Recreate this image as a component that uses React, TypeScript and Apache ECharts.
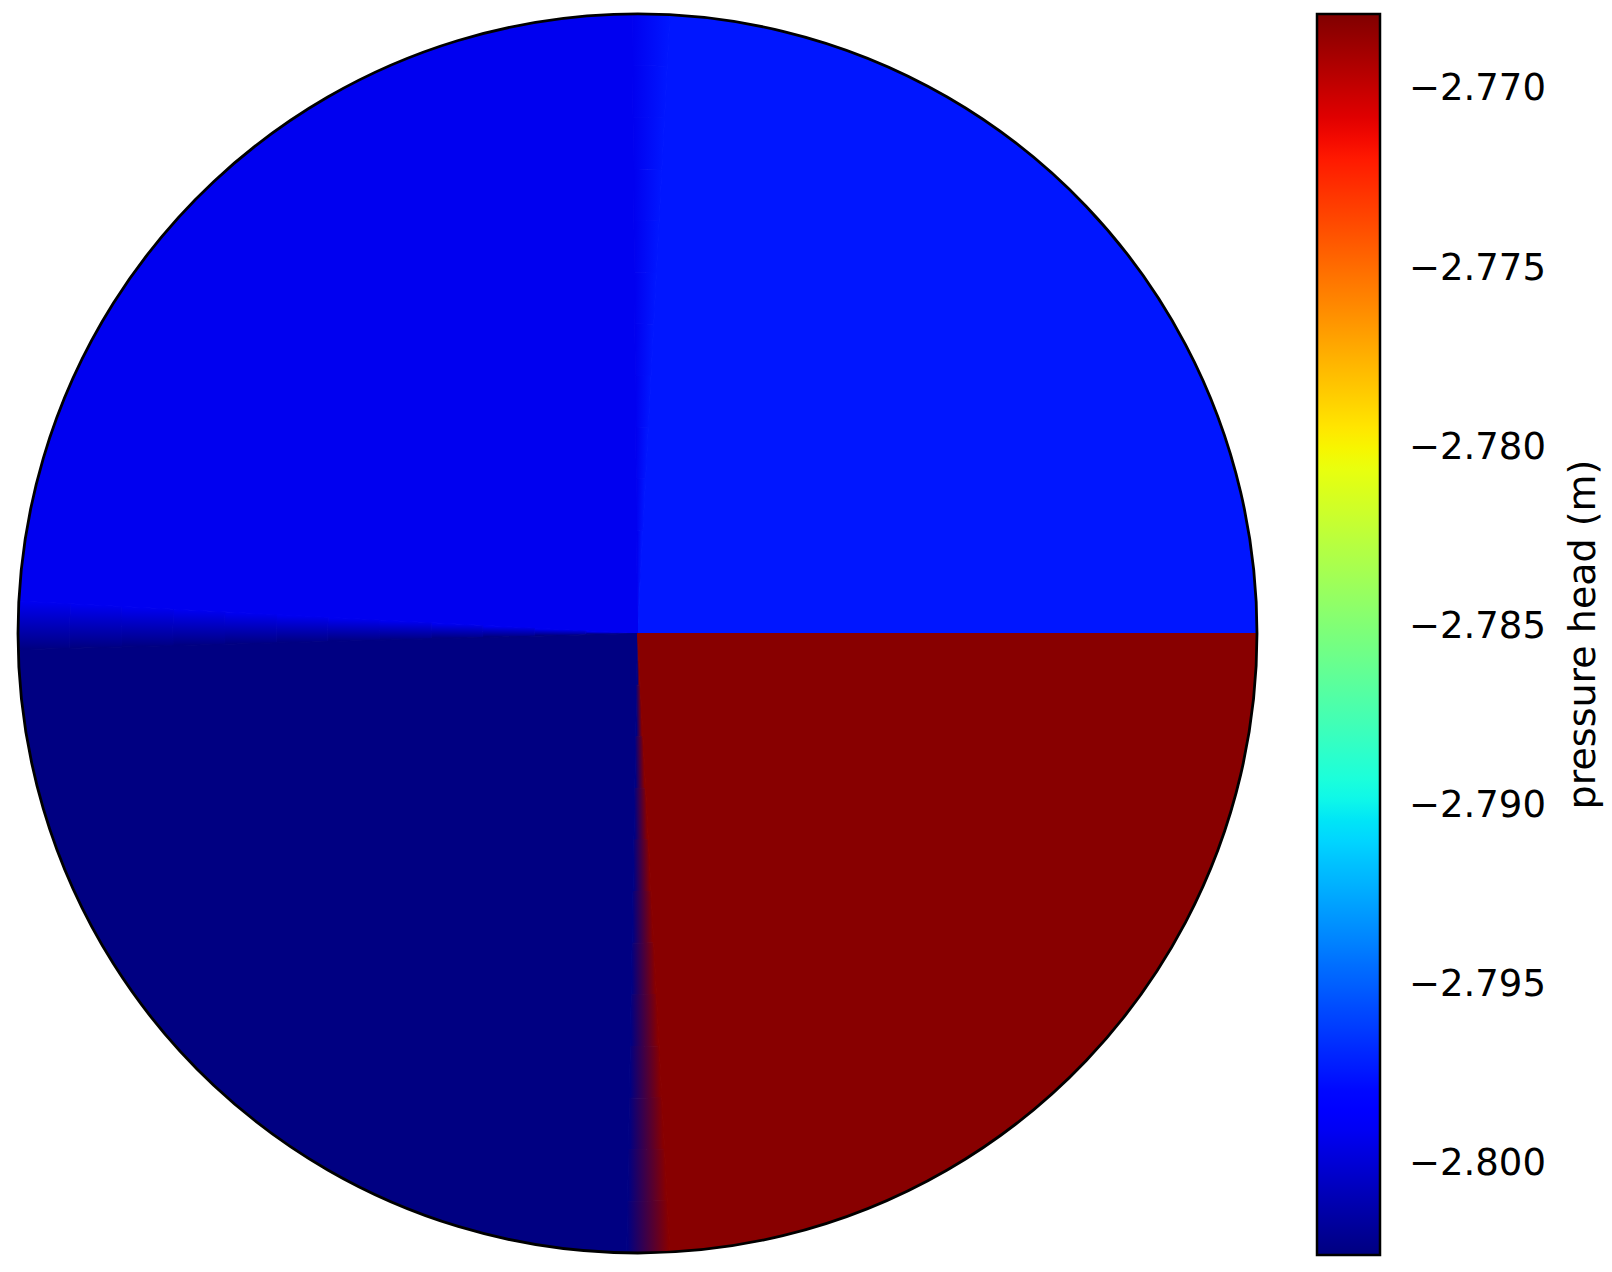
import React, { useEffect, useRef } from "react";
import * as echarts from "echarts";

// colour-bar limits (pressure head, m)
const barMin = -2.80257;
const barMax = -2.76794;
const tickValues = [-2.8, -2.795, -2.79, -2.785, -2.78, -2.775, -2.77];

// field sectors: angles in degrees (counter-clockwise from +x), values at each side of sector
const sectorStart = [0, 87, 90.5, 177, 181.5, 269, 273];
const sectorEnd = [87, 90.5, 177, 181.5, 269, 273, 360];
const valueFrom = [-2.7975, -2.7975, -2.7992, -2.7992, -2.8025, -2.8025, -2.7682];
const valueTo = [-2.7975, -2.7992, -2.7992, -2.8025, -2.8025, -2.7682, -2.7682];

const colorbarLabel = "pressure head (m)";

function interp(pts: number[][], t: number) {
  if (t <= pts[0][0]) return pts[0][1];
  for (let i = 1; i < pts.length; i++) {
    if (t <= pts[i][0]) {
      const [x0, y0] = pts[i - 1];
      const [x1, y1] = pts[i];
      return y0 + ((t - x0) / (x1 - x0)) * (y1 - y0);
    }
  }
  return pts[pts.length - 1][1];
}
const R_PTS = [[0, 0], [0.35, 0], [0.66, 1], [0.89, 1], [1, 0.5]];
const G_PTS = [[0, 0], [0.125, 0], [0.375, 1], [0.64, 1], [0.91, 0], [1, 0]];
const B_PTS = [[0, 0.5], [0.11, 1], [0.34, 1], [0.65, 0], [1, 0]];
function jetT(t: number) {
  const c = (v: number) => Math.round(Math.max(0, Math.min(1, v)) * 255);
  return `rgb(${c(interp(R_PTS, t))},${c(interp(G_PTS, t))},${c(interp(B_PTS, t))})`;
}
function jet(v: number) {
  return jetT((v - barMin) / (barMax - barMin));
}

export default function App() {
  const ref = useRef<HTMLDivElement>(null);
  useEffect(() => {
    document.body.style.margin = "0";
    const chart = echarts.init(ref.current!, null, { renderer: "svg" });
    const fieldData = sectorStart.map((s, i) => [s, sectorEnd[i], valueFrom[i], valueTo[i]]);
    const barStops: any[] = [];
    for (let i = 0; i <= 60; i++) barStops.push({ offset: i / 60, color: jetT(1 - i / 60) });

    const option: any = {
      animation: false,
      backgroundColor: "#fff",
      grid: [
        { left: 18, top: 14, width: 1239, height: 1239 },
        { left: 1317, top: 14, width: 63, height: 1241 },
      ],
      xAxis: [
        { gridIndex: 0, type: "value", min: -1, max: 1, show: false },
        { gridIndex: 1, type: "value", min: 0, max: 1, show: false },
      ],
      yAxis: [
        { gridIndex: 0, type: "value", min: -1, max: 1, show: false },
        {
          gridIndex: 1,
          type: "value",
          position: "right",
          min: barMin,
          max: barMax,
          axisLine: { show: false },
          splitLine: { show: false },
          axisTick: {
            show: true,
            customValues: tickValues,
            length: 12,
            lineStyle: { color: "#000", width: 2.5 },
          },
          axisLabel: {
            show: true,
            customValues: tickValues,
            margin: 29,
            fontSize: 37,
            fontFamily: "DejaVu Sans",
            color: "#000",
            formatter: (v: number) => v.toFixed(3).replace("-", "\u2212"),
          },
          name: colorbarLabel,
          nameLocation: "middle",
          nameRotate: 90,
          nameGap: 183,
          nameTextStyle: { fontSize: 38, fontFamily: "DejaVu Sans", color: "#000" },
        },
      ],
      series: [
        {
          type: "custom",
          xAxisIndex: 0,
          yAxisIndex: 0,
          data: fieldData,
          renderItem: (params: any, api: any) => {
            const a0 = api.value(0);
            const a1 = api.value(1);
            const v0 = api.value(2);
            const v1 = api.value(3);
            const c = api.coord([0, 0]);
            const R = api.size([1, 1])[0];
            const s0 = (-a1 * Math.PI) / 180;
            const e0 = (-a0 * Math.PI) / 180;
            if (v0 === v1) {
              const col = jet(v0);
              return {
                type: "sector",
                shape: { cx: c[0], cy: c[1], r0: 0, r: R, startAngle: s0, endAngle: e0, clockwise: true },
                style: { fill: col, stroke: col, lineWidth: 1 },
              };
            }
            const N = 12;
            const children: any[] = [];
            const t0 = (a0 * Math.PI) / 180;
            const t1 = (a1 * Math.PI) / 180;
            for (let k = 0; k < N; k++) {
              const ri = (R * k) / N;
              const ro = (R * (k + 1)) / N;
              const rm = (ri + ro) / 2;
              const grad = new echarts.graphic.LinearGradient(
                c[0] + rm * Math.cos(t0),
                c[1] - rm * Math.sin(t0),
                c[0] + rm * Math.cos(t1),
                c[1] - rm * Math.sin(t1),
                [
                  { offset: 0, color: jet(v0) },
                  { offset: 1, color: jet(v1) },
                ],
                true
              );
              children.push({
                type: "sector",
                shape: { cx: c[0], cy: c[1], r0: ri, r: ro, startAngle: s0, endAngle: e0, clockwise: true },
                style: { fill: grad, stroke: grad, lineWidth: 1 },
              });
            }
            return { type: "group", children };
          },
          z: 2,
        },
        {
          type: "custom",
          xAxisIndex: 0,
          yAxisIndex: 0,
          data: [[0, 0]],
          renderItem: (params: any, api: any) => {
            const c = api.coord([0, 0]);
            const R = api.size([1, 1])[0];
            return {
              type: "circle",
              shape: { cx: c[0], cy: c[1], r: R },
              style: { fill: "none", stroke: "#000", lineWidth: 2.8 },
            };
          },
          z: 5,
        },
        {
          type: "custom",
          xAxisIndex: 1,
          yAxisIndex: 1,
          data: [[0, barMin, 1, barMax]],
          renderItem: (params: any, api: any) => {
            const p0 = api.coord([api.value(0), api.value(3)]);
            const p1 = api.coord([api.value(2), api.value(1)]);
            return {
              type: "rect",
              shape: { x: p0[0], y: p0[1], width: p1[0] - p0[0], height: p1[1] - p0[1] },
              style: {
                fill: new echarts.graphic.LinearGradient(0, 0, 0, 1, barStops),
                stroke: "#000",
                lineWidth: 2.5,
              },
            };
          },
          z: 3,
        },
      ],
    };
    chart.setOption(option);
    return () => chart.dispose();
  }, []);
  return <div ref={ref} style={{ width: 1612, height: 1272 }} />;
}
